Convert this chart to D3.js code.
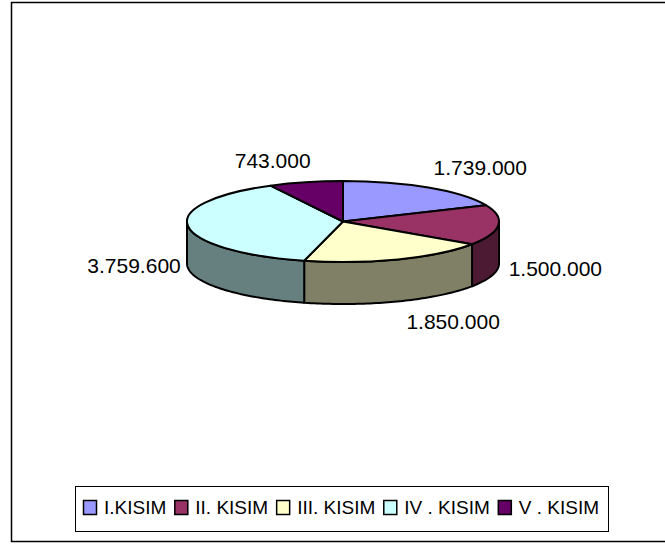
<!DOCTYPE html>
<html>
<head>
<meta charset="utf-8">
<script src="https://cdn.jsdelivr.net/npm/d3@7"></script>
<style>
    html, body { margin: 0; padding: 0; background: #fff; overflow: hidden; }
    svg { display: block; }
    text { font-family: "Liberation Sans", Arial, sans-serif; fill: #000; font-kerning: none; }
</style>
</head>
<body>
<div id="chart"></div>
<script>
const categories = ['I.KISIM', 'II. KISIM', 'III. KISIM', 'IV . KISIM', 'V . KISIM'];
const values = [1739000, 1500000, 1850000, 3759600, 743000];
const valueLabels = ['1.739.000', '1.500.000', '1.850.000', '3.759.600', '743.000'];
const colors = ['#9999ff', '#993366', '#ffffcc', '#ccffff', '#660066'];

const width = 665, height = 544;
const cx = 343, cy = 221.5, rx = 156, ry = 40.5, depth = 42;
// label offset from the rim point at the middle of each slice
const labelOffset = [[52, -20], [57, 43], [55, 62], [-54, 39], [-33, -22]];

var svg = d3.select('#chart').append('svg')
    .attr('width', width)
    .attr('height', height);

// chart frame, its right edge falls outside the picture
svg.append('rect')
    .attr('x', 11.5).attr('y', 2.5)
    .attr('width', 670).attr('height', 539)
    .attr('fill', '#fff')
    .attr('stroke', '#000')
    .attr('stroke-width', 1.5);

const pie = d3.pie().sort(null).value(d => d);
// the 3d view stretches the slices a bit towards the front
const warp = a => a + 0.03 * (1 - Math.cos(a));
const slices = pie(values).map(d => ({
    ...d,
    a0: warp(d.startAngle),
    a1: warp(d.endAngle)
}));

const px = a => cx + rx * Math.sin(a);
const py = a => cy - ry * Math.cos(a);

// side wall, only the front half of the ellipse is visible
const side = svg.append('g');
slices.forEach((d, i) => {
    const from = Math.max(d.a0, Math.PI / 2);
    const to = Math.min(d.a1, Math.PI * 1.5);
    if (from >= to) return;
    const steps = d3.range(from, to, 0.02).concat([to]);
    const top = steps.map(a => [px(a), py(a)]);
    const bottom = steps.slice().reverse().map(a => [px(a), py(a) + depth]);
    const c = d3.rgb(colors[i]);
    side.append('path')
        .attr('d', d3.line()(top.concat(bottom)) + 'Z')
        .attr('fill', d3.rgb(c.r / 2, c.g / 2, c.b / 2))
        .attr('stroke', '#000')
        .attr('stroke-width', 2)
        .attr('stroke-linejoin', 'round');
});

// top face
const arc = d3.arc().innerRadius(0).outerRadius(rx);
svg.append('g')
    .attr('transform', `translate(${cx},${cy}) scale(1,${ry / rx})`)
    .selectAll('path')
    .data(slices)
    .join('path')
    .attr('d', d => arc({ startAngle: d.a0, endAngle: d.a1 }))
    .attr('fill', (d, i) => colors[i])
    .attr('stroke', '#000')
    .attr('stroke-width', 2)
    .attr('stroke-linejoin', 'round')
    .style('vector-effect', 'non-scaling-stroke');

// value labels
svg.append('g')
    .selectAll('text')
    .data(slices)
    .join('text')
    .attr('x', (d, i) => px((d.a0 + d.a1) / 2) + labelOffset[i][0])
    .attr('y', (d, i) => py((d.a0 + d.a1) / 2) + labelOffset[i][1])
    .attr('text-anchor', 'middle')
    .attr('dominant-baseline', 'central')
    .attr('font-size', 21)
    .text((d, i) => valueLabels[i]);

// legend
const legend = svg.append('g');
legend.append('rect')
    .attr('x', 75.5).attr('y', 486.5)
    .attr('width', 533).attr('height', 45)
    .attr('fill', '#fff')
    .attr('stroke', '#000')
    .attr('stroke-width', 1);
var legendX = 83;
categories.forEach((name, i) => {
    legend.append('rect')
        .attr('x', legendX + 0.5).attr('y', 500.5)
        .attr('width', 13).attr('height', 14)
        .attr('fill', colors[i])
        .attr('stroke', '#000')
        .attr('stroke-width', 1.5);
    const label = legend.append('text')
        .attr('x', legendX + 21)
        .attr('y', 514)
        .attr('font-size', 19)
        .text(name);
    legendX += 21 + label.node().getComputedTextLength() + 8;
});
</script>
</body>
</html>
